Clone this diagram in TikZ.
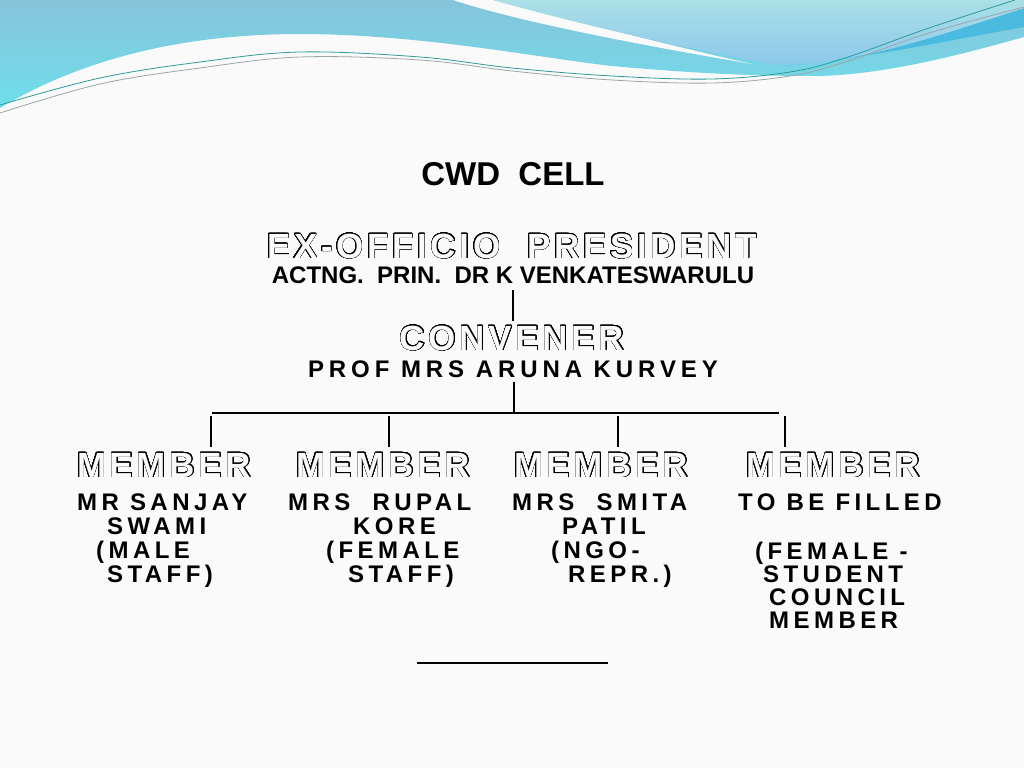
\documentclass[tikz,border=0pt]{standalone}
\usepackage{fontspec}
\setmainfont{Liberation Sans}
\newfontfamily\mtext{Liberation Sans}[LetterSpace=18.5]
\newfontfamily\ctext{Liberation Sans}[LetterSpace=20.5]
\newfontfamily\otext{Liberation Sans}[LetterSpace=10.5]
\usepackage{contour}
\contourlength{0.5pt}
\contournumber{32}
\definecolor{bgc}{HTML}{FAFAFA}
\definecolor{cyanTop}{HTML}{86C4DA}
\definecolor{cyanBot}{HTML}{6EDFEB}
\definecolor{skyTop}{HTML}{AAE0E6}
\definecolor{skyBot}{HTML}{8CC8EC}
\definecolor{deepband}{HTML}{4ABBDF}
\definecolor{tealline}{HTML}{2E9A9A}
\definecolor{greyline}{HTML}{9AA6AA}
\newcommand\outl[1]{\textcolor{bgc}{\contour{black}{#1}}}
\tikzset{
  titletext/.style={anchor=base, inner sep=0pt, font=\fontsize{33}{36}\selectfont\bfseries},
  outtext/.style={anchor=base, inner sep=0pt, font=\fontsize{35}{38}\selectfont\otext\bfseries},
  plainname/.style={anchor=base, inner sep=0pt, font=\fontsize{24}{28}\selectfont\bfseries},
  spacedname/.style={anchor=base, inner sep=0pt, font=\fontsize{24}{28}\selectfont\ctext\bfseries},
  memline/.style={anchor=base west, inner sep=0pt, font=\fontsize{24}{28}\selectfont\mtext\bfseries},
  link/.style={line width=2pt, black},
}
\begin{document}
\begin{tikzpicture}[x=1pt,y=-1pt]
\useasboundingbox (0,0) rectangle (1024,768);
\fill[bgc] (0,0) rectangle (1024,768);
% ---- header waves ----
\shade[top color=cyanTop, bottom color=cyanBot]
  (0,0) -- (1024,0) -- (1024,37)
  .. controls (960,55) and (880,76) .. (812,76)
  .. controls (760,76) and (700,74) .. (612,66)
  .. controls (540,58) and (420,34) .. (300,34)
  .. controls (180,34) and (80,60) .. (0,108) -- cycle;
\fill[deepband]
  (770,67) .. controls (860,60) and (950,40) .. (1024,27) -- (1024,8)
  .. controls (940,35) and (860,60) .. (770,67) -- cycle;
\fill[bgc]
  (453,0) .. controls (520,22) and (640,45) .. (752,64)
  .. controls (680,48) and (570,20) .. (493,0) -- cycle;
\shade[top color=skyTop, bottom color=skyBot]
  (493,0) -- (1024,0) -- (1024,8)
  .. controls (940,35) and (860,64) .. (779,65)
  .. controls (690,50) and (570,22) .. (493,0) -- cycle;
\draw[tealline, line width=0.8pt] plot[smooth, tension=0.6] coordinates
  {(0,105) (100,78) (200,62) (300,52) (420,57) (512,68) (612,76) (712,79) (790,72) (845,58) (929,28) (1015,0)};
\draw[greyline, line width=0.8pt] plot[smooth, tension=0.6] coordinates
  {(0,113) (100,84) (200,68) (300,57) (420,60) (512,71) (612,80) (712,83) (790,76) (845,62) (929,33) (1024,7)};
% ---- texts ----
\node[titletext] (title) at (513,185) {CWD\ \ CELL};
\node[outtext] (pres) at (512,258) {\outl{EX-OFFICIO\ \ PRESIDENT}};
\node[plainname] (presname) at (513,283) {ACTNG.\ \ PRIN.\ \ DR K VENKATESWARULU};
\node[outtext] (conv) at (512,350) {\outl{CONVENER}};
\node[spacedname] (convname) at (513,377) {PROF MRS ARUNA KURVEY};
% members
\node[outtext] (m1) at (164,477) {\outl{MEMBER}};
\node[outtext] (m2) at (383,477) {\outl{MEMBER}};
\node[outtext] (m3) at (601,477) {\outl{MEMBER}};
\node[outtext] (m4) at (833,477) {\outl{MEMBER}};
\node[memline] (a1) at (77,510) {MR SANJAY};
\node[memline] (a2) at (107,534.5) {SWAMI};
\node[memline] (a3) at (96,558) {(MALE};
\node[memline] (a4) at (107,582) {STAFF)};
\node[memline] (b1) at (288,510) {MRS\ \ RUPAL};
\node[memline] (b2) at (353,534.5) {KORE};
\node[memline] (b3) at (326,558) {(FEMALE};
\node[memline] (b4) at (348,582) {STAFF)};
\node[memline] (c1) at (512,510) {MRS\ \ SMITA};
\node[memline] (c2) at (562,534.5) {PATIL};
\node[memline] (c3) at (551,558) {(NGO-};
\node[memline] (c4) at (568,582) {REPR.)};
\node[memline] (d1) at (738,510) {TO BE FILLED};
\node[memline] (d2) at (755,559) {(FEMALE -};
\node[memline] (d3) at (763,582) {STUDENT};
\node[memline] (d4) at (769,605) {COUNCIL};
\node[memline] (d5) at (769,628) {MEMBER};
% ---- connectors ----
\coordinate (p1) at (513,290);
\coordinate (p2) at (513,321);
\coordinate (q1) at (514,382);
\coordinate (q2) at (514,413);
\coordinate (hl) at (212,413);
\coordinate (hr) at (779,413);
\coordinate (t1a) at (211,416); \coordinate (t1b) at (211,447);
\coordinate (t2a) at (389,416); \coordinate (t2b) at (389,447);
\coordinate (t3a) at (618,416); \coordinate (t3b) at (618,447);
\coordinate (t4a) at (785,416); \coordinate (t4b) at (785,447);
\coordinate (u1) at (417,663);
\coordinate (u2) at (608,663);
\draw[link] (p1) -- (p2);
\draw[link] (q1) -- (q2);
\draw[link] (hl) -- (hr);
\draw[link] (t1a) -- (t1b);
\draw[link] (t2a) -- (t2b);
\draw[link] (t3a) -- (t3b);
\draw[link] (t4a) -- (t4b);
\draw[link] (u1) -- (u2);
\end{tikzpicture}
\end{document}
